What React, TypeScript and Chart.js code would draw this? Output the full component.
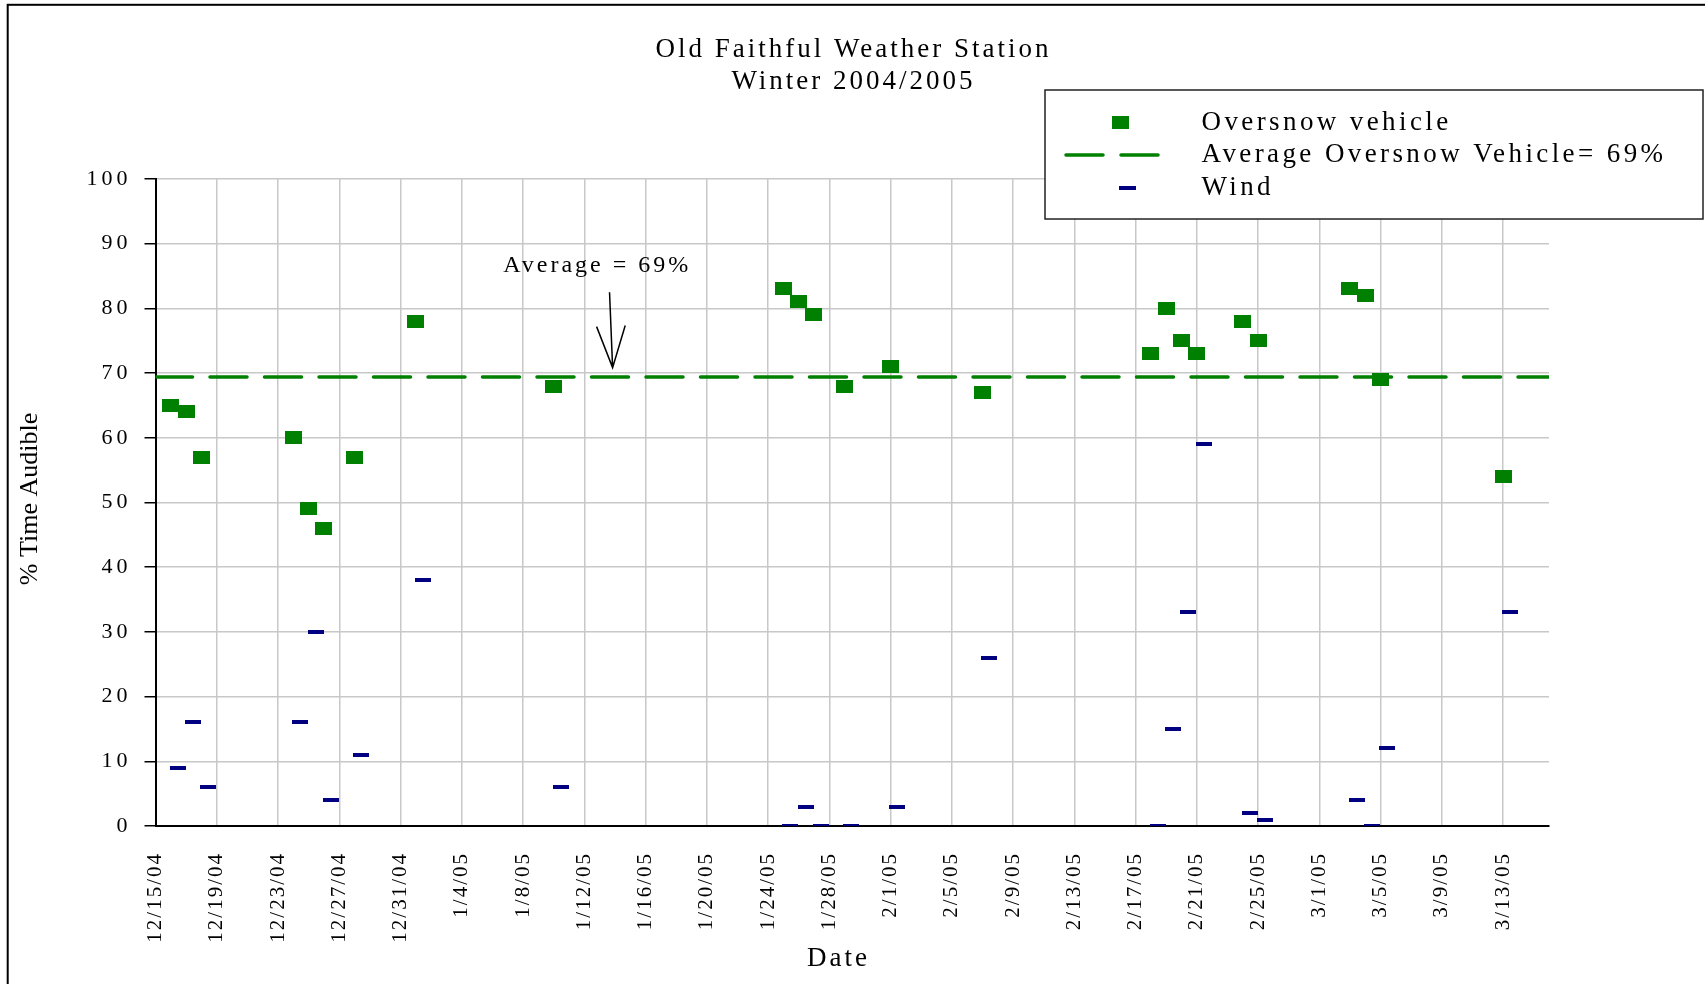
import React, { useEffect, useRef } from "react";
import { Chart, registerables } from "chart.js";

Chart.register(...registerables);

const FONT = "'Liberation Serif', 'Times New Roman', Times, serif";

// ---- text ----
const titleLines = ["Old Faithful Weather Station", "Winter 2004/2005"];
const xAxisTitle = "Date";
const yAxisTitle = "% Time Audible";
const seriesNames = ["Oversnow vehicle", "Average Oversnow Vehicle= 69%", "Wind"];
const annotationText = "Average = 69%";

// ---- axes ----
const axisStartDate = "12/15/04";
const axisDays = 91;
const xTickStepDays = 4;
const yTicks = [0, 10, 20, 30, 40, 50, 60, 70, 80, 90, 100];

// ---- data ----
const sampleDates = [
  "12/16/04", "12/17/04", "12/18/04", "12/24/04", "12/25/04", "12/26/04", "12/28/04",
  "1/1/05", "1/10/05", "1/25/05", "1/26/05", "1/27/05", "1/29/05", "2/1/05", "2/7/05",
  "2/18/05", "2/19/05", "2/20/05", "2/21/05", "2/24/05", "2/25/05", "3/3/05", "3/4/05",
  "3/5/05", "3/13/05",
];
const oversnowValues = [
  65, 64, 57, 60, 49, 46, 57,
  78, 68, 83, 81, 79, 68, 71, 67,
  73, 80, 75, 73, 78, 75, 83, 82,
  69, 54,
];
const windValues = [
  9, 16, 6, 16, 30, 4, 11,
  38, 6, 0, 3, 0, 0, 3, 26,
  0, 15, 33, 59, 2, 1, 4, 0,
  12, 33,
];
// wind readings are plotted a little later in the day than the vehicle readings
const windTimeOffsetDays = 0.45;

// annotation placement, in data units (days, percent)
const annotationPos = { x: 28.75, y: 86.6 };
const arrowTail = { x: 29.65, y: 82.5 };
const arrowTip = { x: 29.85, y: 70.85 };

// ---- helpers ----
const DAY_MS = 86400000;
function parseDate(s: string) {
  const [m, d, y] = s.split("/").map(Number);
  return Date.UTC(2000 + y, m - 1, d);
}
function dayIndex(s: string) {
  return Math.round((parseDate(s) - parseDate(axisStartDate)) / DAY_MS);
}
function dayLabel(n: number) {
  const d = new Date(parseDate(axisStartDate) + n * DAY_MS);
  return `${d.getUTCMonth() + 1}/${d.getUTCDate()}/${String(d.getUTCFullYear()).slice(2)}`;
}
const averageValue = oversnowValues.reduce((a, b) => a + b, 0) / oversnowValues.length;

const GREEN = "#008000";
const NAVY = "#000080";

function makeRect(w: number, h: number, color: string) {
  const c = document.createElement("canvas");
  c.width = w;
  c.height = h;
  const g = c.getContext("2d")!;
  g.fillStyle = color;
  g.fillRect(0, 0, w, h);
  return c;
}

const spacedText = (
  ctx: CanvasRenderingContext2D,
  text: string,
  x: number,
  y: number,
  spacing: number
) => {
  (ctx as any).letterSpacing = `${spacing}px`;
  const shift = ctx.textAlign === "center" ? spacing / 2 : ctx.textAlign === "right" ? spacing : 0;
  ctx.fillText(text, x + shift, y);
};

const decorPlugin = {
  id: "decor",
  afterLayout(chart: any) {
    const spacing: Record<string, string> = { x: "2px", y: "4px" };
    for (const id of ["x", "y"]) {
      const s: any = chart.scales[id];
      if (!s || s.__patched) continue;
      const orig = s.drawLabels.bind(s);
      s.drawLabels = (area: any) => {
        const c = chart.ctx;
        c.save();
        c.letterSpacing = spacing[id];
        orig(area);
        c.restore();
      };
      s.__patched = true;
    }
  },
  afterDraw(chart: any) {
    const ctx: CanvasRenderingContext2D = chart.ctx;
    const xs = chart.scales.x;
    const ys = chart.scales.y;
    ctx.save();

    // outer frame
    ctx.strokeStyle = "#000";
    ctx.lineWidth = 2;
    ctx.strokeRect(7.7, 4.8, 4000, 4000);

    // title
    ctx.fillStyle = "#000";
    ctx.textAlign = "center";
    ctx.textBaseline = "alphabetic";
    ctx.font = `27px ${FONT}`;
    spacedText(ctx, titleLines[0], 852, 56.5, 3);
    spacedText(ctx, titleLines[1], 852, 89, 3);

    // x axis title
    ctx.textBaseline = "middle";
    spacedText(ctx, xAxisTitle, 837, 959, 3);

    // y axis title
    ctx.save();
    ctx.translate(30.5, 499);
    ctx.rotate(-Math.PI / 2);
    ctx.font = `26px ${FONT}`;
    spacedText(ctx, yAxisTitle, 0, 0, 0);
    ctx.restore();

    // annotation
    ctx.font = `24px ${FONT}`;
    ctx.textAlign = "center";
    ctx.textBaseline = "middle";
    spacedText(ctx, annotationText, xs.getPixelForValue(annotationPos.x), ys.getPixelForValue(annotationPos.y), 3);
    const tx = xs.getPixelForValue(arrowTail.x), ty = ys.getPixelForValue(arrowTail.y);
    const hx = xs.getPixelForValue(arrowTip.x), hy = ys.getPixelForValue(arrowTip.y);
    const ang = Math.atan2(ty - hy, tx - hx);
    const headLen = 44, headAng = (19 * Math.PI) / 180;
    ctx.strokeStyle = "#000";
    ctx.lineWidth = 1.5;
    ctx.beginPath();
    ctx.moveTo(tx, ty);
    ctx.lineTo(hx, hy);
    ctx.moveTo(hx + headLen * Math.cos(ang - headAng), hy + headLen * Math.sin(ang - headAng));
    ctx.lineTo(hx, hy);
    ctx.lineTo(hx + headLen * Math.cos(ang + headAng), hy + headLen * Math.sin(ang + headAng));
    ctx.stroke();

    // legend box
    const bx = 1045, by = 90, bw = 658, bh = 129;
    ctx.fillStyle = "#fff";
    ctx.fillRect(bx, by, bw, bh);
    ctx.strokeStyle = "#222";
    ctx.lineWidth = 1.5;
    ctx.strokeRect(bx, by, bw, bh);

    const rows = [122.5, 155, 188];
    // markers
    ctx.fillStyle = GREEN;
    ctx.fillRect(1112, rows[0] - 6.5, 17, 13);
    ctx.strokeStyle = GREEN;
    ctx.lineWidth = 3.5;
    ctx.lineCap = "round";
    ctx.beginPath();
    ctx.moveTo(1066, rows[1]);
    ctx.lineTo(1103, rows[1]);
    ctx.moveTo(1121, rows[1]);
    ctx.lineTo(1158, rows[1]);
    ctx.stroke();
    ctx.fillStyle = NAVY;
    ctx.fillRect(1119, rows[2] - 2, 17, 4);

    ctx.fillStyle = "#000";
    ctx.textAlign = "left";
    ctx.textBaseline = "middle";
    ctx.font = `27px ${FONT}`;
    seriesNames.forEach((name, i) => spacedText(ctx, name, 1201.5, rows[i], 3.4));

    ctx.restore();
  },
};

export default function App() {
  const ref = useRef<HTMLCanvasElement | null>(null);

  useEffect(() => {
    if (!ref.current) return;
    const squareImg = makeRect(17, 13, GREEN);
    const windImg = makeRect(16, 4, NAVY);

    const chart = new Chart(ref.current, {
      type: "scatter",
      data: {
        datasets: [
          {
            label: seriesNames[0],
            data: sampleDates.map((d, i) => ({ x: dayIndex(d), y: oversnowValues[i] })),
            pointStyle: squareImg as any,
            pointRadius: 8,
            showLine: false,
          },
          {
            label: seriesNames[2],
            data: sampleDates.map((d, i) => ({ x: dayIndex(d) + windTimeOffsetDays, y: windValues[i] })),
            pointStyle: windImg as any,
            pointRadius: 8,
            showLine: false,
          },
          {
            label: seriesNames[1],
            data: [
              { x: 0, y: averageValue },
              { x: axisDays, y: averageValue },
            ],
            showLine: true,
            borderColor: GREEN,
            borderWidth: 3.5,
            borderDash: [37, 17.5],
            borderCapStyle: "round",
            pointRadius: 0,
            fill: false,
          } as any,
        ],
      },
      options: {
        responsive: false,
        devicePixelRatio: 1,
        animation: false,
        layout: { padding: { top: 179, right: 156, bottom: 0, left: 0 } },
        plugins: {
          legend: { display: false },
          title: { display: false },
          tooltip: { enabled: false },
        },
        scales: {
          x: {
            type: "linear",
            min: 0,
            max: axisDays,
            afterFit: (s: any) => {
              s.height = 158;
            },
            ticks: {
              stepSize: xTickStepDays,
              includeBounds: false,
              autoSkip: false,
              maxRotation: 90,
              minRotation: 90,
              padding: 26,
              color: "#000",
              font: { family: FONT, size: 21 },
              callback: (v: any) => dayLabel(Number(v)),
            },
            grid: { color: "#c8c8c8", lineWidth: 1.5, drawTicks: false },
            border: { color: "#000", width: 2 },
          },
          y: {
            min: yTicks[0],
            max: yTicks[yTicks.length - 1],
            afterFit: (s: any) => {
              s.width = 155.5;
            },
            ticks: {
              stepSize: yTicks[1] - yTicks[0],
              padding: 13,
              color: "#000",
              font: { family: FONT, size: 22 },
            },
            grid: { color: "#c8c8c8", lineWidth: 1.5, tickColor: "#000", tickLength: 11 },
            border: { color: "#000", width: 2 },
          },
        },
      },
      plugins: [decorPlugin as any],
    });
    chart.draw();
    return () => chart.destroy();
  }, []);

  return (
    <div style={{ position: "fixed", left: 0, top: 0, width: 1705, height: 984, background: "#fff" }}>
      <canvas ref={ref} width={1705} height={984} style={{ display: "block", width: 1705, height: 984 }} />
    </div>
  );
}
